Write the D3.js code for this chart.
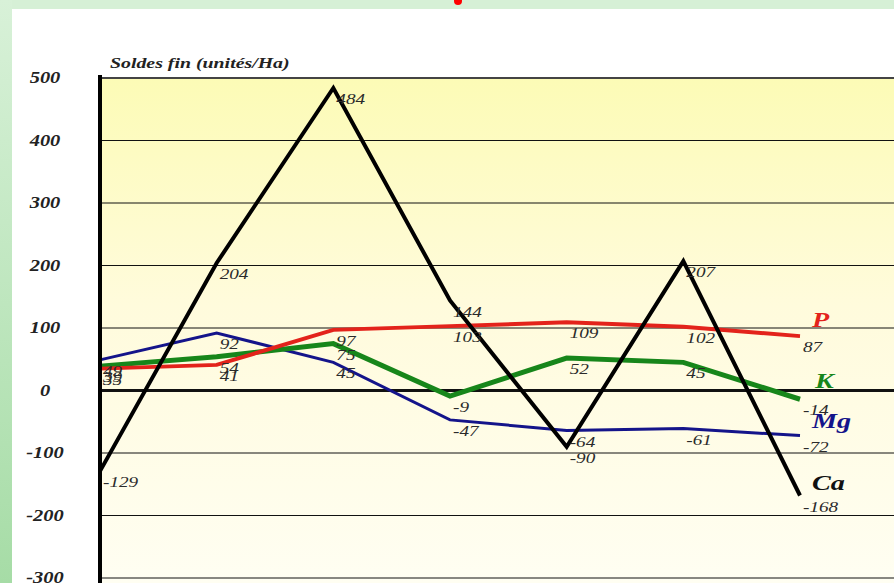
<!DOCTYPE html>
<html>
<head>
<meta charset="utf-8">
<script src="https://cdn.jsdelivr.net/npm/d3@7"></script>
<style>
  body { margin: 0; padding: 0; overflow: hidden; }
  svg { display: block; }
</style>
</head>
<body>
<div id="chart"></div>
<script>
/*
*    soldes fin - chart
*/

var w = 894;
var h = 583;

// data
var points = [0, 1, 2, 3, 4, 5, 6];
var ticks = [-300, -200, -100, 0, 100, 200, 300, 400, 500];
var seriesNames = ["Mg", "K", "P", "Ca"];
var mgValues = [49, 92, 45, -47, -64, -61, -72];
var kValues = [39, 54, 75, -9, 52, 45, -14];
var pValues = [35, 41, 97, 103, 109, 102, 87];
var caValues = [-129, 204, 484, 144, -90, 207, -168];

var seriesValues = [mgValues, kValues, pValues, caValues];
var colors = ["#14148a", "#17861a", "#e3231b", "#000000"];
var widths = [3, 5, 4, 4];
var namePos = [[812, 428], [815, 388], [812, 327], [812, 490]];

// the original picture is stretched sideways
var sx = 1.28;

var svg = d3.select("#chart")
    .append("svg")
        .attr("width", w)
        .attr("height", h);

var defs = svg.append("defs");

var leftGrad = defs.append("linearGradient")
    .attr("id", "leftGrad")
    .attr("x1", 0).attr("y1", 0).attr("x2", 0).attr("y2", 1);
leftGrad.append("stop").attr("offset", "0%").attr("stop-color", "#d8f1d8");
leftGrad.append("stop").attr("offset", "100%").attr("stop-color", "#a6dca6");

var plotGrad = defs.append("linearGradient")
    .attr("id", "plotGrad")
    .attr("x1", 0).attr("y1", 0).attr("x2", 0).attr("y2", 1);
plotGrad.append("stop").attr("offset", "0%").attr("stop-color", "#fcfbb6");
plotGrad.append("stop").attr("offset", "45%").attr("stop-color", "#fffbdc");
plotGrad.append("stop").attr("offset", "100%").attr("stop-color", "#fffef2");

// green frame
svg.append("rect").attr("width", w).attr("height", h).attr("fill", "#d6f0d6");
svg.append("rect").attr("x", 0).attr("y", 0).attr("width", 12).attr("height", h).attr("fill", "url(#leftGrad)");
svg.append("rect").attr("x", 12).attr("y", 9).attr("width", w - 12).attr("height", h - 9).attr("fill", "#ffffff");

// red dot on top
svg.append("circle").attr("cx", 458).attr("cy", 1).attr("r", 4).attr("fill", "#ff0000");

var x = d3.scalePoint()
    .domain(points)
    .range([100, 800]);

var y = d3.scaleLinear()
    .domain([-300, 500])
    .range([578, 78]);

function place(px, py){
    return "translate(" + px + "," + py + ") scale(" + sx + ",1)";
}

svg.append("rect")
    .attr("x", 100).attr("y", y(500))
    .attr("width", w - 100).attr("height", h - y(500))
    .attr("fill", "url(#plotGrad)");

// gridlines
svg.selectAll(".grid")
    .data(ticks)
    .enter()
    .append("line")
    .attr("x1", 100)
    .attr("x2", w)
    .attr("y1", function(d){ return y(d); })
    .attr("y2", function(d){ return y(d); })
    .attr("stroke", function(d){ return d == 500 ? "#444" : "#111"; })
    .attr("stroke-width", function(d){ return d == 0 ? 3 : (d == 500 ? 2 : 1); });

// tick labels
svg.selectAll(".tick-label")
    .data(ticks)
    .enter()
    .append("text")
    .attr("transform", function(d){ return place(45, y(d) + 5); })
    .attr("text-anchor", "middle")
    .attr("font-family", "Liberation Serif, serif")
    .attr("font-style", "italic")
    .attr("font-weight", "bold")
    .attr("font-size", 16)
    .attr("fill", "#222")
    .text(function(d){ return d; });

// title
svg.append("text")
    .attr("transform", place(110, 68))
    .attr("font-family", "Liberation Serif, serif")
    .attr("font-style", "italic")
    .attr("font-weight", "bold")
    .attr("font-size", 15.5)
    .attr("fill", "#222")
    .text("Soldes fin (unités/Ha)");

var line = d3.line()
    .x(function(d, i){ return x(points[i]); })
    .y(function(d){ return y(d); });

seriesValues.forEach(function(vals, s){
    svg.append("path")
        .datum(vals)
        .attr("d", line)
        .attr("fill", "none")
        .attr("stroke", colors[s])
        .attr("stroke-width", widths[s])
        .attr("stroke-linejoin", "miter");
});

// value labels
seriesValues.forEach(function(vals, s){
    svg.selectAll(".lab" + s)
        .data(vals)
        .enter()
        .append("text")
        .attr("transform", function(d, i){ return place(x(points[i]) + 3, y(d) + 16); })
        .attr("font-family", "Liberation Serif, serif")
        .attr("font-style", "italic")
        .attr("font-size", 15)
        .attr("fill", "#2a2a2a")
        .text(function(d){ return d; });
});

// series names
seriesNames.forEach(function(name, s){
    svg.append("text")
        .attr("transform", place(namePos[s][0], namePos[s][1]))
        .attr("font-family", "Liberation Serif, serif")
        .attr("font-style", "italic")
        .attr("font-weight", "bold")
        .attr("font-size", 22)
        .attr("fill", colors[s] == "#000000" ? "#111" : colors[s])
        .text(name);
});

// vertical axis
svg.append("line")
    .attr("x1", 100).attr("x2", 100)
    .attr("y1", y(500) - 3).attr("y2", h)
    .attr("stroke", "#000")
    .attr("stroke-width", 4);
</script>
</body>
</html>
